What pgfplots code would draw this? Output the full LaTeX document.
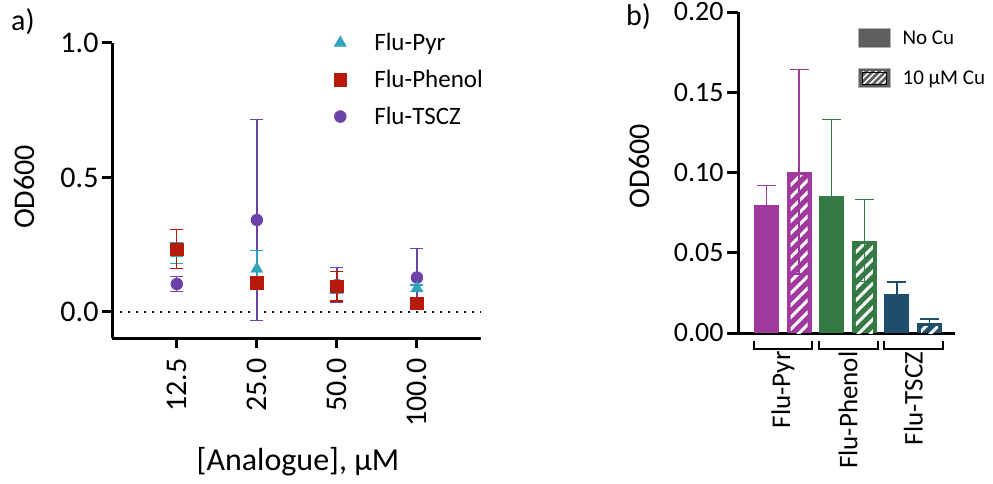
\documentclass[border=0pt]{standalone}
\usepackage{pgfplots}
\pgfplotsset{compat=1.18}
\usepackage{fontspec}
\setmainfont{Carlito}
\usetikzlibrary{patterns.meta}
\definecolor{cPyr}{HTML}{2EA3B9}
\definecolor{cPhe}{HTML}{B51A0B}
\definecolor{cTS}{HTML}{6A42A8}
\definecolor{bPyr}{HTML}{A0399D}
\definecolor{bPhe}{HTML}{357A45}
\definecolor{bTS}{HTML}{1F4D6C}
\definecolor{legGray}{HTML}{5E5E5E}
\pgfplotsset{markleg/.style={legend image code/.code={\path[draw=none,fill=none] (0pt,0pt) -- (42pt,0pt); \draw[mark repeat=2,mark phase=2,##1] plot coordinates {(0pt,0pt) (10pt,0pt) (42pt,0pt)};}}}
\pgfplotsset{
  hatchbar/.style={forget plot, ybar, bar width=17pt, bar shift=0pt, draw=none,
     pattern={Lines[angle=45,distance=8.5pt,line width=3pt]}, pattern color=white},
  errb/.style 2 args={forget plot, draw=none, mark=none, error bars/.cd, y dir=#2, y explicit,
     error bar style={draw=#1, line width=1.4pt},
     error mark options={rotate=90, mark size=9.5pt, line width=1.4pt, draw=#1}},
}
\begin{document}
\begin{tikzpicture}[x=1pt,y=1pt]
\useasboundingbox (0,0) rectangle (993,483);
\node[anchor=north west, inner sep=0pt, font=\fontsize{30}{36}\selectfont] at (11,475) {a)};
\node[anchor=north west, inner sep=0pt, font=\fontsize{30}{36}\selectfont] at (626,480) {b)};

% ---------------- panel a ----------------
\begin{axis}[
  at={(112pt,145pt)}, anchor=south west,
  scale only axis, width=369pt, height=295pt,
  xmin=-0.81, xmax=3.8, ymin=-0.0967, ymax=1.0,
  axis x line=bottom, axis y line=left,
  axis line style={-, line width=3pt},
  tick style={line width=3pt, black},
  major tick length=10pt, tick align=outside,
  xtick={0,1,2,3}, xticklabels={12.5,25.0,50.0,100.0},
  ytick={0,0.5,1},
  /pgf/number format/assume math mode=true,
  yticklabel style={/pgf/number format/fixed, /pgf/number format/fixed zerofill, /pgf/number format/precision=1},
  ticklabel style={font=\fontsize{30}{36}\selectfont},
  xticklabel style={yshift=-7pt, rotate=90, anchor=east},
  xlabel={[Analogue], µM}, ylabel={OD600},
  every axis x label/.style={at={(axis description cs:0.504,-0.42)}, anchor=center, font=\fontsize{32}{38}\selectfont},
  every axis y label/.style={at={(axis description cs:-0.236,0.512)}, rotate=90, anchor=center, font=\fontsize{30}{36}\selectfont},
  legend style={draw=none, fill=none, at={(axis description cs:0.591,1.04)}, anchor=north west,
     font=\fontsize{25}{30}\selectfont, row sep=14pt, inner sep=0pt},
  legend cell align=left,
  clip=false,
]
\addlegendimage{only marks, mark=triangle*, mark size=7pt, color=cPyr, markleg}
\addlegendentry{Flu-Pyr}
\addlegendimage{only marks, mark=square*, mark size=6.3pt, color=cPhe, markleg}
\addlegendentry{Flu-Phenol}
\addlegendimage{only marks, mark=*, mark size=6pt, color=cTS, markleg}
\addlegendentry{Flu-TSCZ}

\draw[line width=2.2pt, dash pattern=on 2.2pt off 5.8pt] (axis cs:-0.81,0) -- (axis cs:3.8,0);

\addplot[forget plot, only marks, mark=*, mark size=6pt, color=cTS,
  error bars/.cd, y dir=both, y explicit,
  error bar style={draw=cTS, line width=1.3pt},
  error mark options={rotate=90, mark size=6.5pt, line width=1.3pt, draw=cTS}]
  table[x=x, y=y, y error=e] {
x y e
0 0.104 0.027
1 0.342 0.373
2 0.100 0.065
3 0.128 0.107
};
\addplot[forget plot, only marks, mark=triangle*, mark size=7pt, color=cPyr,
  error bars/.cd, y dir=both, y explicit,
  error bar style={draw=cPyr, line width=1.3pt},
  error mark options={rotate=90, mark size=6.5pt, line width=1.3pt, draw=cPyr}]
  table[x=x, y=y, y error=e] {
x y e
0 0.218 0.038
1 0.160 0.068
2 0.085 0.015
3 0.088 0.012
};
\addplot[forget plot, only marks, mark=square*, mark size=6.3pt, color=cPhe,
  error bars/.cd, y dir=both, y explicit,
  error bar style={draw=cPhe, line width=1.3pt},
  error mark options={rotate=90, mark size=6.5pt, line width=1.3pt, draw=cPhe}]
  table[x=x, y=y, y error=e] {
x y e
0 0.234 0.072
1 0.109 0.006
2 0.096 0.055
3 0.032 0.008
};
\end{axis}

% ---------------- panel b ----------------
\begin{axis}[
  at={(738pt,150pt)}, anchor=south west,
  scale only axis, width=217pt, height=321pt,
  xmin=-0.874, xmax=5.78, ymin=0, ymax=0.20,
  axis x line=bottom, axis y line=left,
  axis line style={-, line width=3pt},
  tick style={line width=3pt, black},
  major tick length=11pt, tick align=outside,
  xtick={0.5,2.5,4.5}, xticklabels={Flu-Pyr,Flu-Phenol,Flu-TSCZ},
  xtick style={draw=none},
  ytick={0,0.05,0.1,0.15,0.2},
  /pgf/number format/assume math mode=true,
  yticklabel style={/pgf/number format/fixed, /pgf/number format/fixed zerofill, /pgf/number format/precision=2, font=\fontsize{28}{34}\selectfont},
  xticklabel style={yshift=-4pt, rotate=90, anchor=east, font=\fontsize{27}{32}\selectfont},
  ylabel={OD600},
  every axis y label/.style={at={(axis description cs:-0.456,0.52)}, rotate=90, anchor=center, font=\fontsize{30}{36}\selectfont},
  legend style={draw=none, fill=none, at={(axis description cs:0.553,0.95)}, anchor=north west,
     font=\fontsize{21}{25}\selectfont, row sep=20pt, inner sep=0pt},
  legend cell align=left,
  clip=false,
]
\addlegendimage{legend image code/.code={\path[draw=none,fill=none] (0pt,0pt) -- (42pt,0pt); \fill[legGray, draw=gray!60, line width=0.8pt] (0pt,-9.5pt) rectangle (32pt,9.5pt);}}
\addlegendentry{No Cu}
\addlegendimage{legend image code/.code={\path[draw=none,fill=none] (0pt,0pt) -- (42pt,0pt); \fill[legGray, draw=gray!60, line width=0.8pt] (0pt,-9.5pt) rectangle (32pt,9.5pt);
   \fill[pattern={Lines[angle=45,distance=4.5pt,line width=1.6pt]}, pattern color=white] (4pt,-6pt) rectangle (28pt,6pt);}}
\addlegendentry{10 µM Cu}

% bars (full colour)
\addplot[forget plot, ybar, bar width=25pt, bar shift=0pt, fill=bPyr, draw=none] coordinates {(0,0.0796)};
\addplot[forget plot, ybar, bar width=25pt, bar shift=0pt, fill=bPyr, draw=none] coordinates {(1,0.1004)};
\addplot[forget plot, ybar, bar width=25pt, bar shift=0pt, fill=bPhe, draw=none] coordinates {(2,0.0856)};
\addplot[forget plot, ybar, bar width=25pt, bar shift=0pt, fill=bPhe, draw=none] coordinates {(3,0.0575)};
\addplot[forget plot, ybar, bar width=25pt, bar shift=0pt, fill=bTS, draw=none] coordinates {(4,0.0242)};
\addplot[forget plot, ybar, bar width=25pt, bar shift=0pt, fill=bTS, draw=none] coordinates {(5,0.0065)};
% white stripes inside the 10 uM Cu bars (inset 4pt from the top)
\addplot[hatchbar] coordinates {(1,0.0979)};
\addplot[hatchbar] coordinates {(3,0.0550)};
\addplot[hatchbar] coordinates {(5,0.0040)};
% error bars
\addplot[errb={bPyr}{plus}] coordinates {(0,0.0796) +- (0,0.0124)};
\addplot[errb={bPyr}{both}] coordinates {(1,0.1004) +- (0,0.0636)};
\addplot[errb={bPhe}{plus}] coordinates {(2,0.0856) +- (0,0.0474)};
\addplot[errb={bPhe}{both}] coordinates {(3,0.0575) +- (0,0.0255)};
\addplot[errb={bTS}{plus}] coordinates {(4,0.0242) +- (0,0.0075)};
\addplot[errb={bTS}{plus}] coordinates {(5,0.0065) +- (0,0.0023)};
% group brackets
\draw[line width=2pt] ([yshift=-8pt]axis cs:-0.39,0) -- ([yshift=-16pt]axis cs:-0.39,0) -- ([yshift=-16pt]axis cs:1.41,0) -- ([yshift=-8pt]axis cs:1.41,0);
\draw[line width=2pt] ([yshift=-8pt]axis cs:1.60,0) -- ([yshift=-16pt]axis cs:1.60,0) -- ([yshift=-16pt]axis cs:3.43,0) -- ([yshift=-8pt]axis cs:3.43,0);
\draw[line width=2pt] ([yshift=-8pt]axis cs:3.60,0) -- ([yshift=-16pt]axis cs:3.60,0) -- ([yshift=-16pt]axis cs:5.40,0) -- ([yshift=-8pt]axis cs:5.40,0);
\end{axis}
\end{tikzpicture}
\end{document}
